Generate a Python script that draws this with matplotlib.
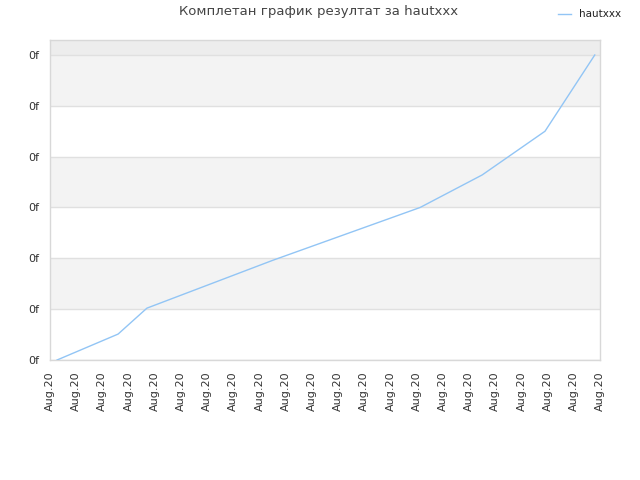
import matplotlib
matplotlib.use("Agg")
import matplotlib.pyplot as plt

title = "Комплетан график резултат за hautxxx"
series_name = "hautxxx"
tick_labels = ["Aug.20"] * 22
y_tick_labels = ["0f"] * 7
x_values = [0.27, 2.6, 3.7, 8.5, 14.13, 16.5, 18.9, 20.8]
y_values = [0.0, 0.51, 1.02, 1.96, 3.0, 3.64, 4.5, 6.0]

fig = plt.figure(figsize=(6.4, 4.8), dpi=100)
ax = fig.add_axes([50/640, 120/480, 550/640, 320/480])
ymax = 6.295
for lo in [1, 3, 5]:
    ax.axhspan(lo, lo + 1, color="#f3f3f3", zorder=0, lw=0)
ax.axhspan(6, ymax, color="#ededed", zorder=0, lw=0)
for v in range(7):
    ax.axhline(v, color="#e0e0e0", lw=1, zorder=1)

ax.plot(x_values, y_values, color="#92c5f5", lw=1.0, zorder=3, label=series_name)

ax.set_xlim(0, 21)
ax.set_ylim(0, ymax)
ax.set_xticks(range(22))
ax.set_xticklabels(tick_labels, rotation=90, fontsize=8, color="#333333")
ax.set_yticks(range(7))
ax.set_yticklabels(y_tick_labels, fontsize=8, color="#333333")
ax.tick_params(axis="x", length=0, pad=8.5)
ax.tick_params(axis="y", length=0, pad=8)
for s in ax.spines.values():
    s.set_color("#d8d8d8")
    s.set_linewidth(1)

fig.text(0.497, 0.975, title, ha="center", va="center", fontsize=9.5, color="#444444")
leg = fig.legend(loc="upper right", bbox_to_anchor=(0.985, 1.0), frameon=False,
                 fontsize=7.5, handlelength=1.2, handletextpad=0.8)
for t in leg.get_texts():
    t.set_color("#222222")

fig.savefig("out.png", dpi=100)
